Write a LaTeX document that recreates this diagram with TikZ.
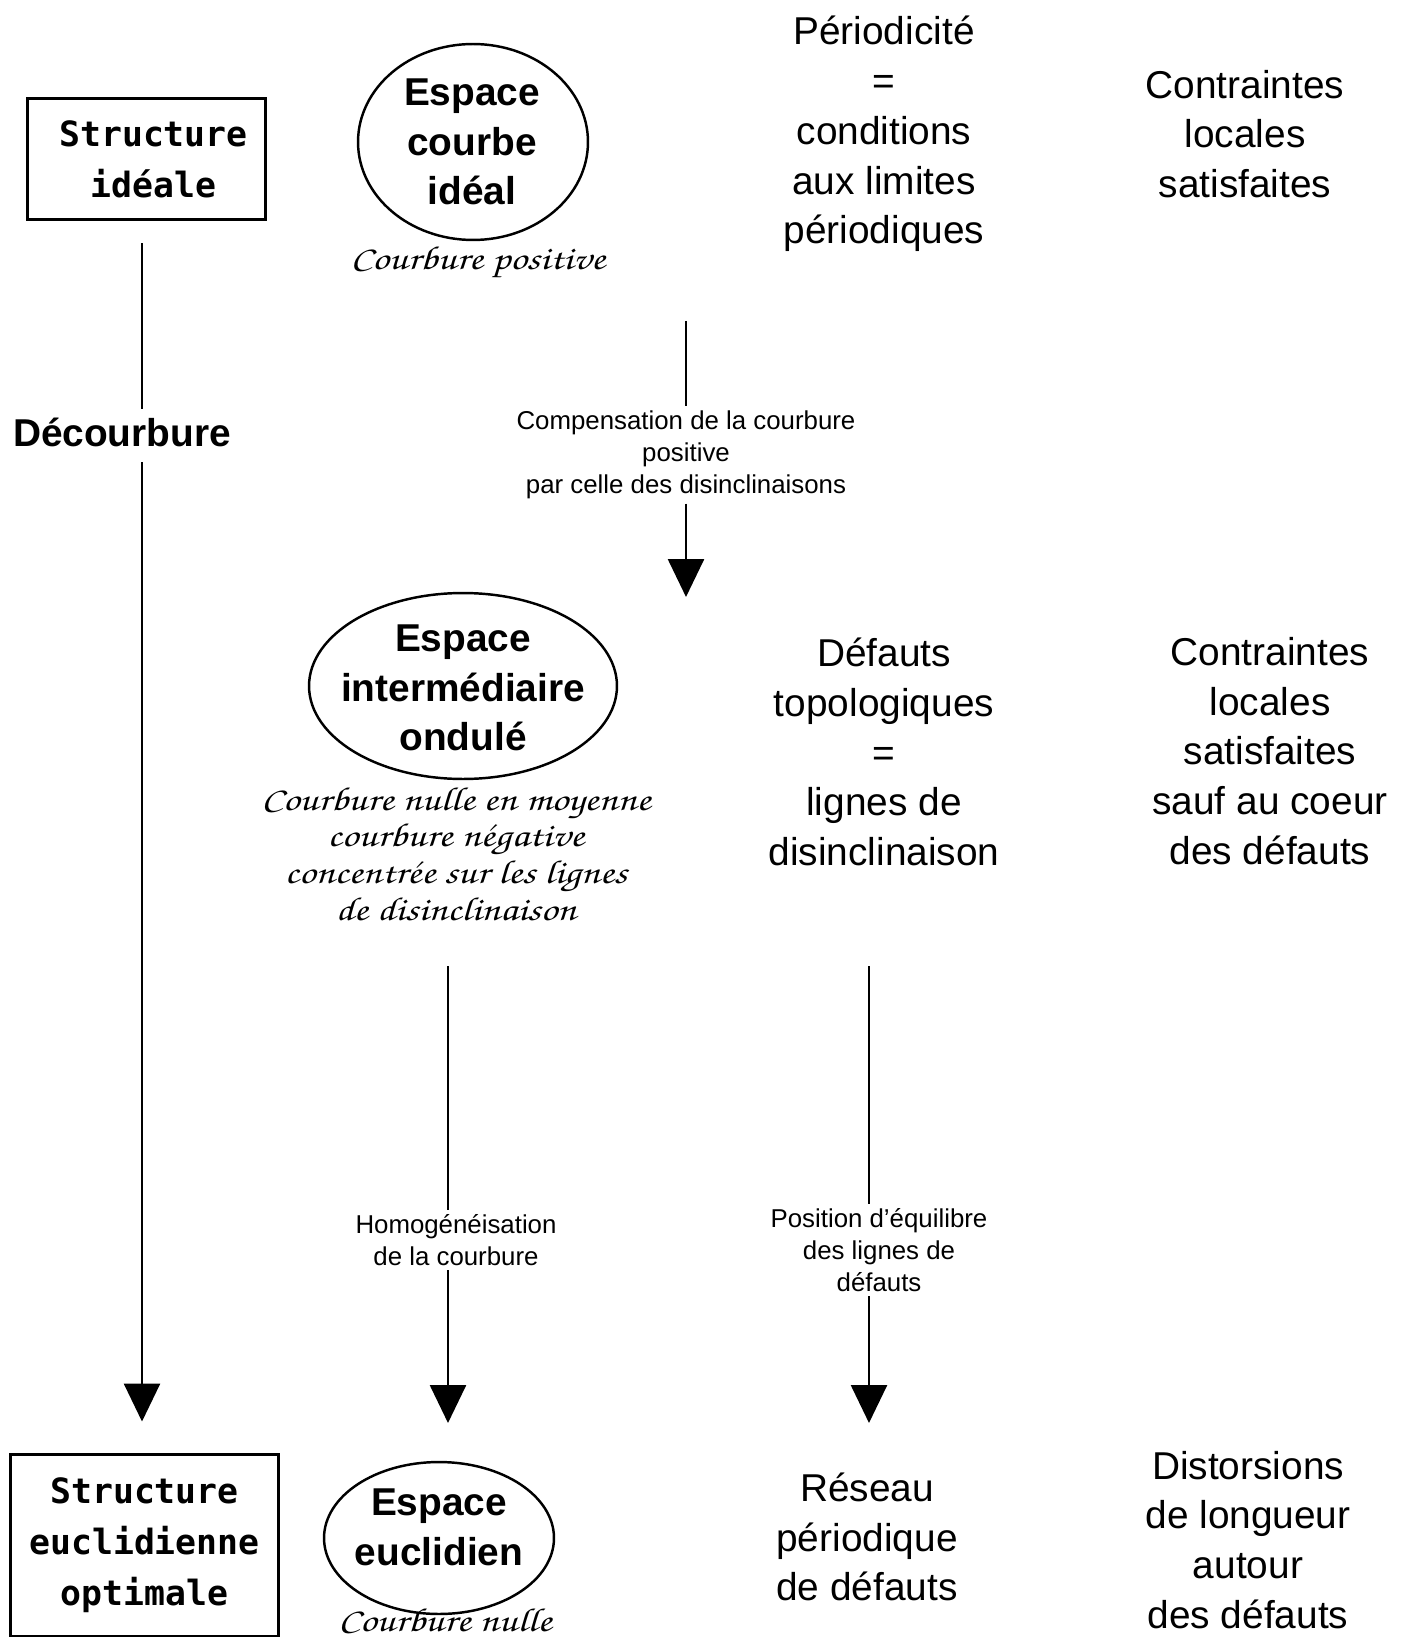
\documentclass[tikz,border=0pt]{standalone}
\usepackage[T1,TU]{fontenc}
\usepackage{fontspec}
\usepackage{pdfrender}
\usepackage{graphicx}
\setmainfont{Liberation Sans}
\newfontfamily\monofnt{DejaVu Sans Mono}
\usetikzlibrary{arrows.meta,shapes.geometric}
\newcommand\scriptfnt{\fontencoding{T1}\fontfamily{pzc}\fontseries{mb}\fontshape{it}\selectfont\pdfrender{TextRenderingMode=FillStroke,LineWidth=0.5pt}}
\newcommand\scrtext[1]{\scalebox{1.12}[0.9]{\begin{tabular}{@{}c@{}}#1\end{tabular}}}
\begin{document}
\begin{tikzpicture}[x=0.02cm,y=-0.02cm,
 bigtxt/.style={align=center, inner sep=0, font=\fontsize{22.1pt}{28.35pt}\selectfont},
 bigbold/.style={align=center, inner sep=0, font=\bfseries\fontsize{22.1pt}{28.35pt}\selectfont},
 boxnode/.style={draw, line width=1.7pt, align=center, inner sep=0, font=\monofnt\bfseries\fontsize{19.8pt}{29pt}\selectfont},
 ell/.style={draw, ellipse, line width=1.4pt, inner sep=0},
 scr/.style={inner sep=0, font={\scriptfnt\fontsize{21pt}{23.3pt}\selectfont}},
 lbl/.style={align=center, inner sep=0.08cm, font=\fontsize{14.7pt}{18.3pt}\selectfont},
 conn/.style={line width=1.5pt},
 arr/.style={conn, -{Triangle[width=0.72cm,length=0.76cm]}},
]
\useasboundingbox (0,0) rectangle (1409,1638);

% left column
\node[boxnode, minimum width=4.78cm, minimum height=2.44cm] (box1) at (146.5,159) {\hspace*{0.28cm}Structure\\\hspace*{0.28cm}idéale};
\node[boxnode, minimum width=5.38cm, minimum height=3.64cm] (box2) at (144.5,1545) {Structure\\euclidienne\\optimale};
\node[font=\bfseries\fontsize{22.1pt}{28.35pt}\selectfont, anchor=base, text height=0.74cm, text depth=0.32cm, inner ysep=0, inner xsep=0] (dec) at (122,446) {Décourbure};

% second column
\node[ell, minimum width=4.6cm, minimum height=3.92cm] (e1) at (473,142) {};
\node[bigbold] (e1t) at (472,142) {Espace\\courbe\\idéal};
\node[scr] (s1) at (478,262) {\scrtext{Courbure positive}};
\node[ell, minimum width=6.16cm, minimum height=3.72cm] (e2) at (463,686) {};
\node[bigbold] (e2t) at (463,688) {Espace\\intermédiaire\\ondulé};
\node[scr] (s2) at (456,858) {\scrtext{Courbure nulle en moyenne\\courbure négative\\concentrée sur les lignes\\de disinclinaison}};
\node[ell, minimum width=4.6cm, minimum height=3.04cm] (e3) at (439,1538) {};
\node[bigbold] (e3t) at (439,1527) {Espace\\euclidien};
\node[scr] (s3) at (445,1624) {\scrtext{Courbure nulle}};

% third column
\node[bigtxt] (p1) at (884,134) {Périodicité\\=\\conditions\\aux limites\\périodiques};
\node[bigtxt] (p2) at (884,752) {Défauts\\topologiques\\=\\lignes de\\disinclinaison};
\node[bigtxt] (p3) at (867,1537) {Réseau\\périodique\\de défauts};

% fourth column
\node[bigtxt] (q1) at (1245,134) {Contraintes\\locales\\satisfaites};
\node[bigtxt] (q2) at (1270,751) {Contraintes\\locales\\satisfaites\\sauf au coeur\\des défauts};
\node[bigtxt] (q3) at (1248,1540) {Distorsions\\de longueur\\autour\\des défauts};

% arrow labels
\node[lbl] (comp) at (686,455) {Compensation de la courbure\\positive\\par celle des disinclinaisons};
\node[lbl] (homog) at (456,1240) {Homogénéisation\\de la courbure};
\node[lbl] (pos) at (879,1250) {Position d'équilibre\\des lignes de\\défauts};

% connectors
\draw[conn, shorten <=0.44cm] ([xshift=-0.09cm]box1.south) -- ([xshift=-0.09cm]box1.south |- dec.north);
\draw[arr, shorten >=0.62cm] ([xshift=-0.09cm]box1.south |- dec.south) -- ([xshift=-0.09cm]box1.south |- box2.north);

\coordinate (a1top) at (686,321);
\coordinate (a1tip) at (686,597);
\draw[conn] (a1top) -- (comp);
\draw[arr] (comp) -- (a1tip);

\coordinate (a2top) at (448,966);
\coordinate (a2tip) at (448,1423);
\draw[conn] (a2top) -- (a2top |- homog.north);
\draw[arr] (a2top |- homog.south) -- (a2tip);

\coordinate (a3top) at (869,966);
\coordinate (a3tip) at (869,1423);
\draw[conn] (a3top) -- (a3top |- pos.north);
\draw[arr] (a3top |- pos.south) -- (a3tip);
\end{tikzpicture}
\end{document}
